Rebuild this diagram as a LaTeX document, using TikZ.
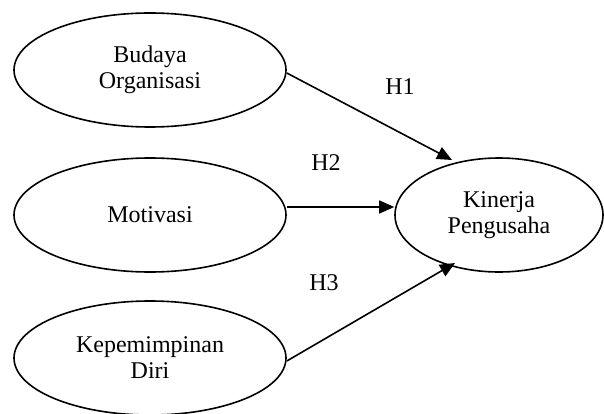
\documentclass[tikz,border=0pt]{standalone}
\usepackage{fontspec}
\setmainfont{Liberation Serif}
\usetikzlibrary{shapes.geometric,arrows.meta}
\begin{document}
\begin{tikzpicture}[x=1pt,y=-1pt,
  var/.style={draw,line width=1.6pt,ellipse,inner sep=0pt,minimum width=272pt,minimum height=114pt,
    align=center,font=\fontsize{24pt}{26pt}\selectfont},
  hyp/.style={font=\fontsize{24pt}{26pt}\selectfont,anchor=base,inner sep=0pt},
  link/.style={line width=1.6pt,-{Triangle[length=15pt,width=13pt]}}]
\useasboundingbox (0,0) rectangle (604,414);
\node[var] (bud) at (150,70) {Budaya\\Organisasi};
\node[var] (mot) at (150,215) {Motivasi};
\node[var] (kep) at (150,358) {Kepemimpinan\\Diri};
\node[var,minimum width=208pt] (kin) at (499,215) {Kinerja\\Pengusaha};
\node[hyp] (h1) at (400,95) {H1};
\node[hyp] (h2) at (326,171) {H2};
\node[hyp] (h3) at (324,290) {H3};
\coordinate (t1) at ([shift={(-47,-55)}]kin.center);
\coordinate (t3) at ([shift={(-44,48)}]kin.center);
\draw[link] ([yshift=-3pt]bud.east) -- (t1);
\draw[link] ([yshift=8pt]mot.east) -- ([yshift=8pt]kin.west);
\draw[link] ([yshift=-3pt]kep.east) -- (t3);
\end{tikzpicture}
\end{document}
